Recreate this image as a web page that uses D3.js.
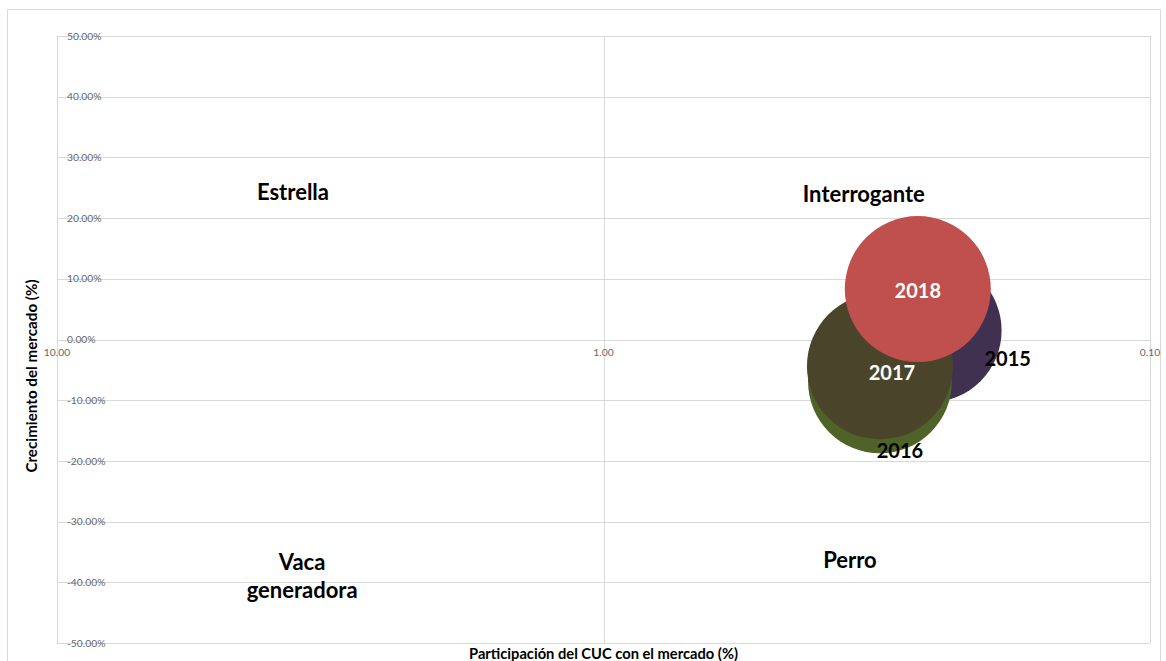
<!DOCTYPE html>
<html>
<head>
<meta charset="utf-8">
<script src="https://cdn.jsdelivr.net/npm/d3@7"></script>
<style>
  html, body { margin: 0; padding: 0; background: #ffffff; }
  svg { display: block; }
</style>
</head>
<body>
<svg id="chart" width="1166" height="661"></svg>
<script>
// ---- data ----
const years = ["2015", "2016", "2017", "2018"];
const relativeShare = [0.253, 0.312, 0.312, 0.266];      // participación relativa (log scale, reversed)
const marketGrowth = [0.015, -0.069, -0.044, 0.083];     // crecimiento del mercado
const bubbleSize = [0.97, 0.97, 1.0, 1.0];              // tamaño relativo de burbuja
const bubbleColors = ["#403151", "#4f6228", "#4a452a", "#c0504d"];
const labelColors = ["#000000", "#000000", "#ffffff", "#ffffff"];
const xTicks = [10, 1, 0.1];
const yTicks = [-0.5, -0.4, -0.3, -0.2, -0.1, 0, 0.1, 0.2, 0.3, 0.4, 0.5];
const quadrantNames = [["Estrella"], ["Interrogante"], ["Vaca", "generadora"], ["Perro"]];
const quadrantPos = [[3.70, 0.229], [0.334, 0.226], [3.56, -0.380], [0.354, -0.377]];
const xTitle = "Participación del CUC con el mercado (%)";
const yTitle = "Crecimiento del mercado (%)";

// ---- layout ----
const svg = d3.select("#chart");
const plot = { left: 57, right: 1150, top: 36, bottom: 643 };
const labelOffsets = [[78, 29], [20, 70], [12, 7], [0, 2]];

const x = d3.scaleLog().domain([10, 0.1]).range([plot.left, plot.right]);
const y = d3.scaleLinear().domain([-0.5, 0.5]).range([plot.bottom, plot.top]);
const r = d3.scaleSqrt().domain([0, 1]).range([0, 73]);

const gridColor = "#d9d9d9";
const font = "Lato, 'Open Sans', sans-serif";

// outer chart border
svg.append("path")
  .attr("d", "M7.5,670 V9.5 H1160.5 V670")
  .attr("fill", "none").attr("stroke", gridColor).attr("stroke-width", 1);

// horizontal gridlines
svg.append("g").selectAll("line").data(yTicks).join("line")
  .attr("x1", plot.left).attr("x2", plot.right)
  .attr("y1", d => Math.round(y(d)) + 0.5).attr("y2", d => Math.round(y(d)) + 0.5)
  .attr("stroke", gridColor).attr("stroke-width", 1);

// vertical gridlines
svg.append("g").selectAll("line").data(xTicks).join("line")
  .attr("x1", d => Math.round(x(d)) + 0.5).attr("x2", d => Math.round(x(d)) + 0.5)
  .attr("y1", plot.top).attr("y2", plot.bottom)
  .attr("stroke", gridColor).attr("stroke-width", 1);

// y tick labels (left-aligned inside plot, on the gridline)
const yFmt = d3.format(".2%");
svg.append("g").selectAll("text").data(yTicks).join("text")
  .attr("x", plot.left + 10)
  .attr("y", d => y(d))
  .attr("dy", "0.35em")
  .attr("font-family", font).attr("font-size", 10.3)
  .attr("fill", "#666666")
  .text(d => yFmt(d).replace("−", "-"));

// x tick labels (under the 0% line)
svg.append("g").selectAll("text").data(xTicks).join("text")
  .attr("x", d => x(d))
  .attr("y", y(0) + 16)
  .attr("text-anchor", "middle")
  .attr("font-family", font).attr("font-size", 10.3)
  .attr("fill", "#666666")
  .text(d => d3.format(".2f")(d));

// quadrant labels
quadrantNames.forEach((lines, i) => {
  const t = svg.append("text")
    .attr("x", x(quadrantPos[i][0]))
    .attr("y", y(quadrantPos[i][1]))
    .attr("text-anchor", "middle")
    .attr("font-family", font).attr("font-weight", "bold").attr("font-size", 22)
    .attr("fill", "#000");
  lines.forEach((ln, j) => {
    t.append("tspan").attr("x", x(quadrantPos[i][0])).attr("dy", j === 0 ? 0 : 28).text(ln);
  });
});

// bubbles
const data = years.map((yr, i) => ({
  year: yr, share: relativeShare[i], growth: marketGrowth[i], size: bubbleSize[i],
  color: bubbleColors[i], labelColor: labelColors[i], off: labelOffsets[i]
}));

svg.append("g").selectAll("circle").data(data).join("circle")
  .attr("cx", d => x(d.share))
  .attr("cy", d => y(d.growth))
  .attr("r", d => r(d.size))
  .attr("fill", d => d.color);

svg.append("g").selectAll("text").data(data).join("text")
  .attr("x", d => x(d.share) + d.off[0])
  .attr("y", d => y(d.growth) + d.off[1])
  .attr("dy", "0.35em")
  .attr("text-anchor", "middle")
  .attr("font-family", font).attr("font-weight", "bold").attr("font-size", 20)
  .attr("fill", d => d.labelColor)
  .text(d => d.year);

// axis titles
svg.append("text")
  .attr("x", (plot.left + plot.right) / 2)
  .attr("y", 659)
  .attr("text-anchor", "middle")
  .attr("font-family", font).attr("font-weight", "bold").attr("font-size", 14.7)
  .attr("fill", "#000")
  .text(xTitle);

svg.append("text")
  .attr("transform", "translate(37,376) rotate(-90)")
  .attr("text-anchor", "middle")
  .attr("font-family", font).attr("font-weight", "bold").attr("font-size", 15.2)
  .attr("fill", "#000")
  .text(yTitle);
</script>
</body>
</html>
